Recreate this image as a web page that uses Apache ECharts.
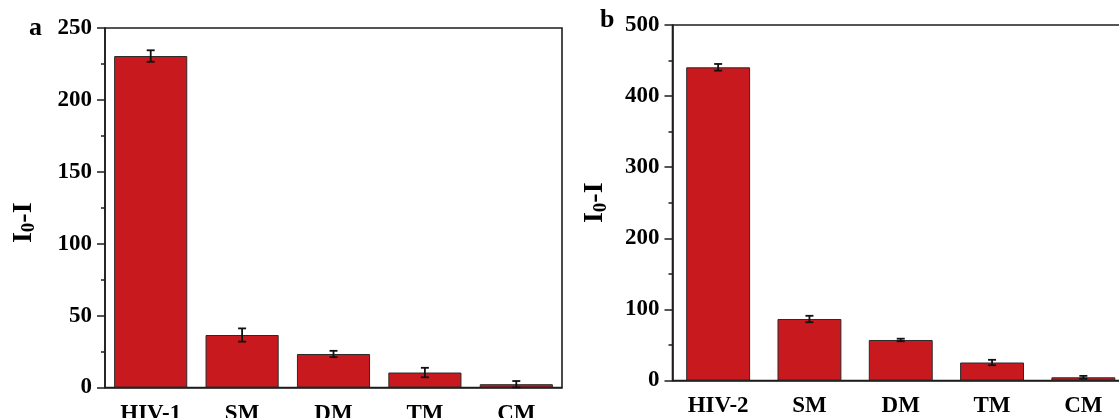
<!DOCTYPE html>
<html>
<head>
<meta charset="utf-8">
<script src="https://cdn.jsdelivr.net/npm/echarts@6/dist/echarts.min.js"></script>
<style>
  html, body { margin: 0; padding: 0; background: #fff; }
  #chart { width: 1119px; height: 418px; }
</style>
</head>
<body>
<div id="chart"></div>
<script>
// panel a
var categoriesA = ['HIV-1', 'SM', 'DM', 'TM', 'CM'];
var valuesA = [230.5, 36.5, 23.3, 10.4, 2.3];
var errorsA = [4, 4.6, 2.2, 3.3, 2.2];
var yTicksA = [0, 50, 100, 150, 200, 250];
// panel b
var categoriesB = ['HIV-2', 'SM', 'DM', 'TM', 'CM'];
var valuesB = [440.5, 86.5, 57, 25.3, 4.5];
var errorsB = [4.7, 4.5, 1.8, 3.8, 2];
var yTicksB = [0, 100, 200, 300, 400, 500];

var serif = '"Liberation Serif", "Times New Roman", serif';
var ink = '#1e1e1e';

function errData(vals, errs) {
    return vals.map(function (v, i) { return [i, v, errs[i]]; });
}

function renderErr(params, api) {
    var x = api.value(0), v = api.value(1), e = api.value(2);
    var top = api.coord([x, v + e]);
    var bot = api.coord([x, v - e]);
    var cap = 4;
    var st = { stroke: '#111', lineWidth: 1.8 };
    return {
        type: 'group',
        children: [
            { type: 'line', shape: { x1: top[0], y1: top[1], x2: bot[0], y2: bot[1] }, style: st },
            { type: 'line', shape: { x1: top[0] - cap, y1: top[1], x2: top[0] + cap, y2: top[1] }, style: st },
            { type: 'line', shape: { x1: bot[0] - cap, y1: bot[1], x2: bot[0] + cap, y2: bot[1] }, style: st }
        ]
    };
}

function mainX(gridIndex, cats, margin) {
    return {
        type: 'category', gridIndex: gridIndex, data: cats,
        axisLine: { lineStyle: { color: ink, width: 1.6 } },
        axisTick: { alignWithLabel: true, length: 6, lineStyle: { color: ink, width: 1.5 } },
        axisLabel: { margin: margin, color: '#000', fontFamily: serif, fontWeight: 'bold', fontSize: 23 }
    };
}
function boundX(gridIndex, cats) {
    return {
        type: 'category', gridIndex: gridIndex, data: cats, position: 'bottom',
        axisLine: { show: false },
        axisTick: { length: 3.5, lineStyle: { color: ink, width: 1.5 } },
        axisLabel: { show: false }
    };
}
function yAx(gridIndex, ticks, gap, nameStyle) {
    return {
        type: 'value', gridIndex: gridIndex,
        min: ticks[0], max: ticks[ticks.length - 1], interval: ticks[1] - ticks[0],
        name: '{i|I}{s|0}{i|-I}',
        nameLocation: 'middle',
        nameGap: gap,
        nameTextStyle: nameStyle,
        axisLine: { show: true, lineStyle: { color: ink, width: 1.6 } },
        axisTick: { show: true, length: 8, lineStyle: { color: ink, width: 1.5 } },
        minorTick: { show: true, splitNumber: 2, length: 4, lineStyle: { color: ink, width: 1.5 } },
        splitLine: { show: false },
        axisLabel: { margin: 13, color: '#000', fontFamily: serif, fontWeight: 'bold', fontSize: 23 }
    };
}
function nameRich(pad) {
    return {
        padding: pad,
        rich: {
            i: { fontFamily: serif, fontWeight: 'bold', fontSize: 28, color: '#000' },
            s: { fontFamily: serif, fontWeight: 'bold', fontSize: 19, color: '#000', padding: [12, 0, 0, 0] }
        }
    };
}

var barStyle = { color: '#c8191e', borderColor: '#2a2a2a', borderWidth: 1 };

var chart = echarts.init(document.getElementById('chart'));
chart.setOption({
    animation: false,
    backgroundColor: '#fff',
    title: [
        { text: 'a', left: 29, top: 15, padding: 0, textStyle: { fontFamily: serif, fontWeight: 'bold', fontSize: 26, color: '#000' } },
        { text: 'b', left: 600, top: 7, padding: 0, textStyle: { fontFamily: serif, fontWeight: 'bold', fontSize: 26, color: '#000' } }
    ],
    grid: [
        { left: 105, top: 28, right: 557, bottom: 30.5, outerBoundsMode: 'none', show: true, borderColor: ink, borderWidth: 1.6 },
        { left: 672.5, top: 25, right: -10, bottom: 37.5, outerBoundsMode: 'none', show: true, borderColor: ink, borderWidth: 1.6 }
    ],
    xAxis: [mainX(0, categoriesA, 15), boundX(0, categoriesA), mainX(1, categoriesB, 14), boundX(1, categoriesB)],
    yAxis: [yAx(0, yTicksA, 66, nameRich([0, 30, 0, 0])), yAx(1, yTicksB, 62, nameRich(0))],
    series: [
        { type: 'bar', xAxisIndex: 0, yAxisIndex: 0, data: valuesA, barWidth: '80%', itemStyle: barStyle },
        { type: 'custom', xAxisIndex: 0, yAxisIndex: 0, data: errData(valuesA, errorsA), renderItem: renderErr, z: 5 },
        { type: 'bar', xAxisIndex: 2, yAxisIndex: 1, data: valuesB, barWidth: '70%', itemStyle: barStyle },
        { type: 'custom', xAxisIndex: 2, yAxisIndex: 1, data: errData(valuesB, errorsB), renderItem: renderErr, z: 5 }
    ]
});
</script>
</body>
</html>
